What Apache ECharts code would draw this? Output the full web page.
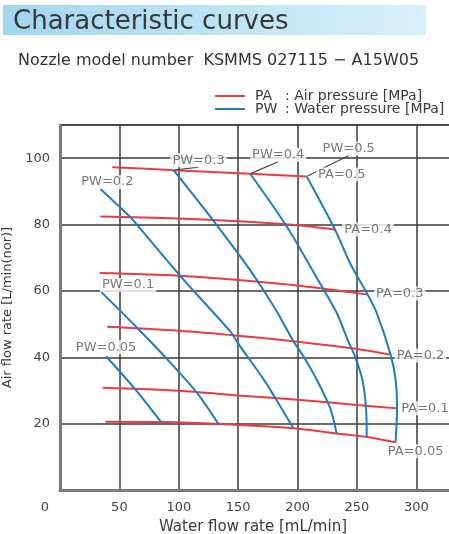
<!DOCTYPE html>
<html>
<head>
<meta charset="utf-8">
<script src="https://cdn.jsdelivr.net/npm/echarts@6/dist/echarts.min.js"></script>
<style>
  html, body { margin: 0; padding: 0; background: #fff; }
  #chart { width: 449px; height: 534px; }
</style>
</head>
<body>
<div id="chart"></div>
<script>
// Water flow rate [mL/min] (x) against air flow rate [L/min(nor)] (y).
const xTickStep = 50;
const yTickStep = 20;

// Constant air pressure curves, PA [MPa]
const paLevels = ['0.5', '0.4', '0.3', '0.2', '0.1', '0.05'];
const pa050 = [[43.9, 97.3], [95.6, 96.4], [160.1, 95.3], [207.7, 94.5]];
const pa040 = [[34.0, 82.4], [100, 81.8], [150, 81.0], [200, 79.8], [231.5, 78.5]];
const pa030 = [[33.4, 65.4], [100, 64.6], [150, 63.3], [200, 61.6], [258.2, 58.9]];
const pa020 = [[39.7, 49.2], [100, 48.0], [150, 46.5], [200, 44.7], [250, 42.5], [278.3, 40.8]];
const pa010 = [[36.0, 30.8], [100, 29.9], [150, 28.5], [200, 27.2], [250, 25.6], [283.7, 24.6]];
const pa005 = [[38.2, 20.6], [85.0, 20.5], [133.4, 19.9], [196.5, 18.6], [232.9, 17.0], [258.2, 16.0], [282.5, 14.4]];

// Constant water pressure curves, PW [MPa]
const pwLevels = ['0.05', '0.1', '0.2', '0.3', '0.4', '0.5'];
const pw005 = [[38.8, 40.3], [63.4, 30.3], [85.0, 20.5]];
const pw010 = [[34.6, 59.7], [64.9, 48.9], [88.7, 40.0], [115.3, 29.3], [133.4, 19.9]];
const pw020 = [[34.0, 90.7], [58.7, 82.4], [64.9, 79.9], [104.0, 63.4], [143.3, 47.8], [151.7, 43.3], [171.3, 33.4], [181.1, 27.8], [196.5, 18.6]];
const pw030 = [[95.6, 96.4], [126.5, 82.4], [151.7, 70.4], [165.7, 63.3], [182.5, 53.8], [196.5, 44.8], [204.9, 40.3], [216.1, 33.3], [227.3, 24.8], [232.9, 17.0]];
const pw040 = [[160.1, 95.3], [190.9, 79.4], [217.2, 63.3], [232.9, 53.4], [242.7, 44.8], [248.3, 40.3], [254.5, 33.3], [257.6, 24.8], [258.2, 16.0]];
const pw050 = [[207.7, 94.5], [231.5, 78.5], [244.1, 68.4], [258.2, 59.4], [266.6, 53.4], [278.3, 40.8], [282.5, 33.3], [283.7, 24.6], [282.5, 14.4]];

const paCurves = [pa050, pa040, pa030, pa020, pa010, pa005];
const pwCurves = [pw005, pw010, pw020, pw030, pw040, pw050];

const RED = '#ec3a44';
const BLUE = '#1f7cbf';
const TAG_COLOR = '#555';
const FONT = 'DejaVu Sans';

// Pixel offsets of each curve tag from the curve end it names
const paTagOffsets = [[35, -2], [33, 0], [33, -1], [30, 1], [28, 0], [20, 9]];
const pwTagOffsets = [[0, -9], [27, -7], [7, -7], [25, -10], [28, -19], [42, -28]];
const pwTagLeader = [false, false, false, true, true, true];

function curveSeries(name, color, points) {
  return {
    type: 'line',
    name: name,
    data: points,
    color: color,
    smooth: 0.3,
    symbol: 'none',
    lineStyle: { width: 2, color: color },
    z: name === 'PW' ? 4 : 3,
    silent: true
  };
}

const tagLabel = {
  show: true,
  position: 'inside',
  formatter: p => p.name,
  color: TAG_COLOR,
  fontFamily: FONT,
  fontSize: 13,
  backgroundColor: '#fff',
  padding: [1, 2, 0, 2]
};

const paTags = paCurves.map((c, i) => ({
  name: 'PA=' + paLevels[i],
  value: c[c.length - 1],
  label: { offset: paTagOffsets[i] }
}));
const pwTags = pwCurves.map((c, i) => ({
  name: 'PW=' + pwLevels[i],
  value: c[0],
  label: { offset: pwTagOffsets[i] },
  labelLine: { show: pwTagLeader[i], lineStyle: { color: '#444', width: 1.2 } }
}));

const series = []
  .concat(paCurves.map(c => curveSeries('PA', RED, c)))
  .concat(pwCurves.map(c => curveSeries('PW', BLUE, c)))
  .concat([{
    type: 'scatter',
    name: 'tags',
    data: paTags.concat(pwTags),
    symbolSize: 2,
    itemStyle: { color: 'rgba(0,0,0,0)' },
    label: tagLabel,
    labelLine: { show: false, length2: 0 },
    z: 6,
    silent: true
  }]);

const chart = echarts.init(document.getElementById('chart'), null, { renderer: 'canvas' });

chart.setOption({
  animation: false,
  backgroundColor: '#fff',
  textStyle: { fontFamily: FONT },
  title: [
    {
      text: 'Characteristic curves',
      left: 13, top: 9, padding: 0,
      textStyle: { fontFamily: FONT, fontSize: 26, fontWeight: 'normal', color: '#383838' },
      z: 10
    },
    {
      text: 'Nozzle model number  KSMMS 027115 \u2212 A15W05',
      left: 18, top: 53, padding: 0,
      textStyle: { fontFamily: FONT, fontSize: 16, fontWeight: 'normal', color: '#333' }
    }
  ],
  graphic: [{
    type: 'rect',
    left: 3, top: 5,
    shape: { width: 423, height: 30 },
    style: {
      fill: new echarts.graphic.LinearGradient(0, 0, 1, 0, [
        { offset: 0, color: '#a2d6f0' },
        { offset: 1, color: '#d8effa' }
      ])
    },
    z: 0
  }],
  legend: {
    data: ['PA', 'PW'],
    orient: 'vertical',
    left: 215, top: 89,
    padding: 0,
    icon: 'rect',
    itemWidth: 30, itemHeight: 2,
    itemGap: -1,
    selectedMode: false,
    formatter: n => n === 'PA'
      ? '{k|PA}{v|: Air pressure [MPa]}'
      : '{k|PW}{v|: Water pressure [MPa]}',
    textStyle: {
      fontFamily: FONT,
      rich: {
        k: { width: 30, padding: [0, 0, 0, 5], fontSize: 14, lineHeight: 13, color: '#3a3a3a', fontFamily: FONT },
        v: { fontSize: 14, lineHeight: 13, color: '#3a3a3a', fontFamily: FONT }
      }
    }
  },
  grid: {
    left: 60, top: 125, width: 392, height: 365,
    containLabel: false,
    outerBoundsMode: 'none',
    show: true, borderColor: '#7a7a7a', borderWidth: 2
  },
  xAxis: {
    type: 'value',
    min: 0, max: 330, interval: xTickStep,
    name: 'Water flow rate [mL/min]',
    nameLocation: 'middle',
    nameGap: 30,
    nameTextStyle: { fontFamily: FONT, fontSize: 15, color: '#3a3a3a', padding: [0, 6, 0, 0] },
    axisLine: { show: true, lineStyle: { color: '#7a7a7a', width: 3 } },
    axisTick: { show: false },
    splitLine: { show: true, lineStyle: { color: '#3a3a3a', width: 1.5 } },
    axisLabel: {
      margin: 11,
      fontSize: 13, color: '#444', fontFamily: FONT,
      formatter: v => v === 0 ? '{z|0}' : (v > 300 ? '' : String(v)),
      rich: { z: { fontSize: 13, color: '#444', fontFamily: FONT, padding: [0, 30, 0, 0] } }
    }
  },
  yAxis: {
    type: 'value',
    min: 0, max: 110, interval: yTickStep,
    name: 'Air flow rate [L/min(nor)]',
    nameLocation: 'middle',
    nameGap: 45,
    nameTextStyle: { fontFamily: FONT, fontSize: 13, color: '#3a3a3a' },
    axisLine: { show: true, lineStyle: { color: '#7a7a7a', width: 3 } },
    axisTick: { show: false },
    splitLine: { show: true, lineStyle: { color: '#3a3a3a', width: 1.5 } },
    axisLabel: {
      margin: 10,
      fontSize: 13, color: '#444', fontFamily: FONT,
      formatter: v => (v === 0 || v > 100) ? '' : String(v)
    }
  },
  series: series
});
</script>
</body>
</html>
